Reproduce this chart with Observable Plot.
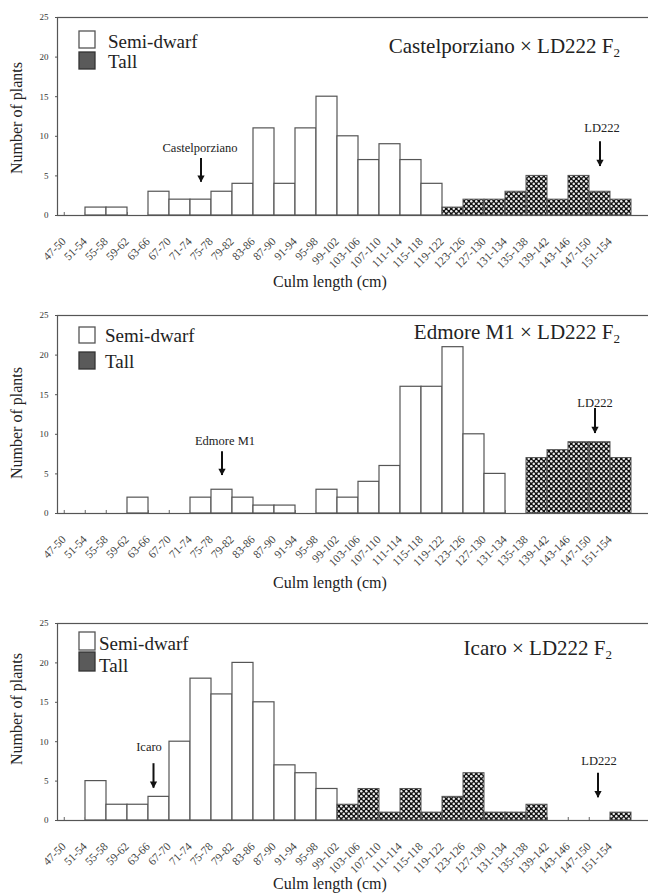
<!DOCTYPE html>
<html><head><meta charset="utf-8">
<script src="https://cdn.jsdelivr.net/npm/d3@7"></script>
<script src="https://cdn.jsdelivr.net/npm/@observablehq/plot@0.6"></script>
<style>
html,body{margin:0;padding:0;background:#fff;overflow:hidden;width:648px;height:894px;}
#chart svg.plot-panel{display:block;}
</style></head><body>
<svg width="0" height="0" style="position:absolute;left:0;top:0">
  <defs>
    <pattern id="tallPat" width="5" height="5" patternUnits="userSpaceOnUse">
      <rect width="5" height="5" fill="#111"/>
      <circle cx="1.25" cy="1.25" r="1.25" fill="#eee"/>
      <circle cx="3.75" cy="3.75" r="1.25" fill="#eee"/>
    </pattern>
  </defs>
</svg>
<div id="chart"></div>
<script>
// ---------- data ----------
const bins = ["47-50","51-54","55-58","59-62","63-66","67-70","71-74","75-78","79-82","83-86","87-90","91-94","95-98","99-102","103-106","107-110","111-114","115-118","119-122","123-126","127-130","131-134","135-138","139-142","143-146","147-150","151-154"];
const yTicks = [0, 5, 10, 15, 20, 25];
const seriesNames = ["Semi-dwarf", "Tall"];

const castelTitle = "Castelporziano × LD222 F";
const castelCounts = [0,1,1,0,3,2,2,3,4,11,4,11,15,10,7,9,7,4,1,2,2,3,5,2,5,3,2];
const castelTallFrom = "119-122";
const castelNotes = [
  {label: "Castelporziano", bin: "71-74", textAt: 8.5, from: 6.7, to: 4.2},
  {label: "LD222", bin: "147-150", textAt: 11.1, from: 8.8, to: 6.2}
];

const edmoreTitle = "Edmore M1 × LD222 F";
const edmoreCounts = [0,0,0,2,0,0,2,3,2,1,1,0,3,2,4,6,16,16,21,10,5,0,7,8,9,9,7];
const edmoreTallFrom = "135-138";
const edmoreNotes = [
  {label: "Edmore M1", bin: "75-78", textAt: 9.1, from: 7.3, to: 4.8},
  {label: "LD222", bin: "147-150", textAt: 13.9, from: 12.75, to: 10.1}
];

const icaroTitle = "Icaro × LD222 F";
const icaroCounts = [0,5,2,2,3,10,18,16,20,15,7,6,4,2,4,1,4,1,3,6,1,1,2,0,0,0,1];
const icaroTallFrom = "99-102";
const icaroNotes = [
  {label: "Icaro", bin: "63-66", textAt: 9.3, from: 6.7, to: 4.1},
  {label: "LD222", bin: "147-150", textAt: 7.5, from: 5.5, to: 2.9}
];

const xLabel = "Culm length (cm)";
const yLabel = "Number of plants";

// ---------- layout ----------
const FONT = "'Liberation Serif', 'Times New Roman', serif";
const X0 = 57, X1 = 637;
const BW = (X1 - X0) / bins.length;

const downTri = {
  draw(ctx, size) {
    const s = Math.sqrt(size);
    const w = 0.62 * s, h = 1.15 * s;
    ctx.moveTo(-w, -h); ctx.lineTo(w, -h); ctx.lineTo(0, 0); ctx.closePath();
  }
};

function makePanel(title, counts, tallFrom, notes, L) {
  const tallIdx = bins.indexOf(tallFrom);
  const rows = bins.map((bin, i) => ({bin, n: counts[i], tall: i >= tallIdx}));
  const semi = rows.filter(d => !d.tall && d.n > 0);
  const tall = rows.filter(d => d.tall && d.n > 0);

  const noteMarks = notes.flatMap((n, i) => [
    Plot.ruleX([n], {x: "bin", y1: "to", y2: "from", stroke: "#111", strokeWidth: 2, dx: L.noteDx[i][0], insetBottom: 4}),
    Plot.dot([n], {x: "bin", y: "to", symbol: downTri, r: 3.3, fill: "#111", stroke: "none", dx: L.noteDx[i][0]}),
    Plot.text([n], {x: "bin", y: "textAt", text: "label", fontSize: 12.5, fill: "#222", dx: L.noteDx[i][1]})
  ]);

  const svg = Plot.plot({
    width: 652, height: L.height,
    marginLeft: X0, marginRight: 0, marginTop: L.top, marginBottom: L.height - L.base,
    className: "plot-panel",
    style: {fontFamily: FONT, background: "white", maxWidth: "none", color: "#222", overflow: "visible"},
    x: {type: "band", domain: bins, range: [X0, X1], padding: 0, label: null, axis: null},
    y: {domain: [0, 25], label: null},
    marks: [
      Plot.ruleX(bins, {x: d => d, y1: 0, y2: 0.38, dx: -BW / 2, stroke: "#666", strokeWidth: 1}),
      Plot.barY(semi, {x: "bin", y: "n", fill: "white", stroke: "#555", strokeWidth: 1.2}),
      Plot.barY(tall, {x: "bin", y: "n", fill: "url(#tallPat)", stroke: "#555", strokeWidth: 1}),
      Plot.frame({stroke: "#555", strokeWidth: 1.2}),
      Plot.text(bins, {x: d => d, text: d => d, frameAnchor: "bottom", rotate: -45,
        textAnchor: "end", lineAnchor: "middle", dx: -11, dy: 24, fontSize: 11.5, fill: "#444"}),
      Plot.axisY({ticks: yTicks, tickSize: 2, tickPadding: 7, fontSize: 9, fill: "#333", stroke: "#555"}),
      ...noteMarks
    ]
  });

  const s = d3.select(svg);
  const g = s.append("g").attr("font-family", FONT).attr("fill", "#222").attr("text-anchor", "start");
  // legend
  const lg = L.legend;
  g.append("rect").attr("x", lg.x).attr("y", lg.y1).attr("width", 16).attr("height", lg.h1)
    .attr("fill", "white").attr("stroke", "#555").attr("stroke-width", 1.3);
  g.append("rect").attr("x", lg.x).attr("y", lg.y2).attr("width", 16).attr("height", lg.h2)
    .attr("fill", "#5a5a5a").attr("stroke", "#333").attr("stroke-width", 1.3);
  g.append("text").attr("x", lg.tx).attr("y", lg.tb1).attr("font-size", 19).text(seriesNames[0]);
  g.append("text").attr("x", lg.tx).attr("y", lg.tb2).attr("font-size", 19).text(seriesNames[1]);
  // title
  const t = g.append("text").attr("x", L.title[0]).attr("y", L.title[1]).attr("font-size", 21).attr("text-anchor", "end");
  t.append("tspan").text(title);
  t.append("tspan").attr("font-size", 13).attr("dy", 4).text("2");
  // axis titles
  g.append("text").attr("transform", `translate(${L.ylab[0]},${L.ylab[1]}) rotate(-90)`)
    .attr("text-anchor", "middle").attr("dy", "0.35em").attr("font-size", 16).text(yLabel);
  g.append("text").attr("x", L.xlab[0]).attr("y", L.xlab[1]).attr("text-anchor", "middle")
    .attr("font-size", 16).text(xLabel);
  return svg;
}

const root = document.getElementById("chart");
root.append(makePanel(castelTitle, castelCounts, castelTallFrom, castelNotes, {
  height: 300, top: 17, base: 215,
  legend: {x: 79, y1: 31, h1: 17, y2: 52, h2: 17, tx: 108, tb1: 47.5, tb2: 68},
  title: [620, 53], ylab: [16.5, 118], xlab: [330, 287],
  noteDx: [[0, -1], [0, 2]]
}));
root.append(makePanel(edmoreTitle, edmoreCounts, edmoreTallFrom, edmoreNotes, {
  height: 300, top: 15, base: 213,
  legend: {x: 79, y1: 27, h1: 16, y2: 52, h2: 17, tx: 105, tb1: 42, tb2: 68},
  title: [620, 39], ylab: [16.5, 123], xlab: [330, 288],
  noteDx: [[0, 3], [-5, -5]]
}));
root.append(makePanel(icaroTitle, icaroCounts, icaroTallFrom, icaroNotes, {
  height: 294, top: 23, base: 220,
  legend: {x: 79, y1: 32, h1: 18, y2: 52, h2: 19, tx: 99, tb1: 49.5, tb2: 71.5},
  title: [612, 55], ylab: [16.5, 109], xlab: [330, 289],
  noteDx: [[-5.5, -10], [-2, -1]]
}));
</script>
</body></html>
